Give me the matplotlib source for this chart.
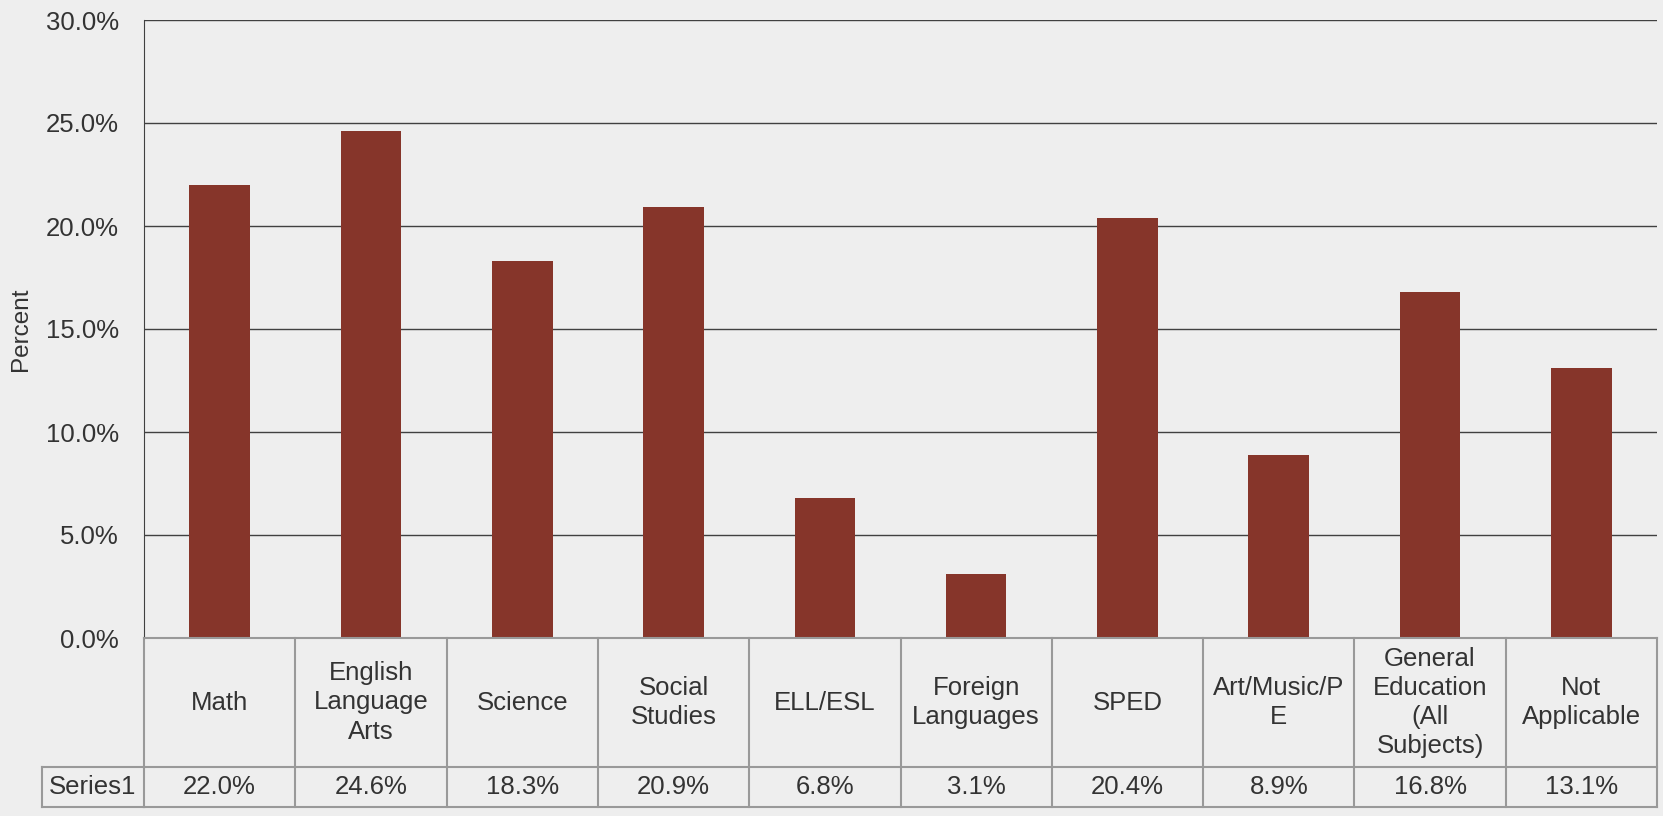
import matplotlib
matplotlib.use("Agg")
import matplotlib.pyplot as plt
from matplotlib.ticker import FuncFormatter, MultipleLocator
from matplotlib.transforms import blended_transform_factory

# --- Data ---
categories = ["Math", "English\nLanguage\nArts", "Science", "Social\nStudies",
              "ELL/ESL", "Foreign\nLanguages", "SPED", "Art/Music/P\nE",
              "General\nEducation\n(All\nSubjects)", "Not\nApplicable"]
values = [22.0, 24.6, 18.3, 20.9, 6.8, 3.1, 20.4, 8.9, 16.8, 13.1]
series_name = "Series1"

BG = "#eeeeee"
BAR = "#86352a"
TXT = "#333333"
BORDER = "#999999"
FS = 18.5

plt.rcParams['font.family'] = ['Liberation Sans', 'DejaVu Sans']

fig = plt.figure(figsize=(16.63, 8.16), dpi=100, facecolor=BG)
ax = fig.add_axes([144 / 1663, 1 - 638 / 816, 1513 / 1663, 618 / 816])
ax.set_facecolor(BG)

x = list(range(len(categories)))
ax.bar(x, values, width=0.4, color=BAR, zorder=3)

ax.set_xlim(-0.5, len(categories) - 0.5)
ax.set_ylim(0, 30)
ax.yaxis.set_major_locator(MultipleLocator(5))
ax.yaxis.set_major_formatter(FuncFormatter(lambda v, p: f"{v:.1f}%"))
ax.grid(axis='y', color="#404040", linewidth=1.0, zorder=0)
ax.tick_params(axis='y', length=0, labelsize=FS, colors=TXT, pad=18)
ax.tick_params(axis='x', length=0, labelbottom=False)
for s in ["top", "right", "bottom"]:
    ax.spines[s].set_visible(False)
ax.spines["left"].set_color("#404040")

# y label placed in figure coords so it sits near the left edge
fig.text(21 / 1663, 1 - 329 / 816, "Percent", rotation=90, ha='center', va='center',
         fontsize=17.5, color=TXT)

# --- Data table below the axes ---
tr = blended_transform_factory(ax.transData, ax.transAxes)
h_head = 129 / 618
h_val = 40 / 618
y1 = -h_head
y2 = -h_head - h_val
lw = 1.5
n = len(categories)

# horizontal lines
ax.plot([-0.5, n - 0.5], [0, 0], transform=tr, color=BORDER, lw=lw, clip_on=False, zorder=4)
ax.plot([-0.5, n - 0.5], [y1, y1], transform=tr, color=BORDER, lw=lw, clip_on=False)
ax.plot([-0.5, n - 0.5], [y2, y2], transform=tr, color=BORDER, lw=lw, clip_on=False)
# vertical lines
for i in range(n + 1):
    ax.plot([i - 0.5, i - 0.5], [0, y2], transform=tr, color=BORDER, lw=lw, clip_on=False)

# series label cell
left_frac = (42 - 144) / 1513
tra = ax.transAxes
ax.plot([left_frac, 0], [y1, y1], transform=tra, color=BORDER, lw=lw, clip_on=False)
ax.plot([left_frac, 0], [y2, y2], transform=tra, color=BORDER, lw=lw, clip_on=False)
ax.plot([left_frac, left_frac], [y1, y2], transform=tra, color=BORDER, lw=lw, clip_on=False)
ax.text(left_frac / 2, (y1 + y2) / 2, series_name, transform=tra, ha='center', va='center',
        fontsize=FS, color=TXT)

for i, (c, v) in enumerate(zip(categories, values)):
    ax.text(i, y1 / 2, c, transform=tr, ha='center', va='center', fontsize=FS,
            color=TXT, linespacing=1.28)
    ax.text(i, (y1 + y2) / 2, f"{v:.1f}%", transform=tr, ha='center', va='center',
            fontsize=FS, color=TXT)

fig.savefig("out.png", dpi=100, facecolor=BG)
